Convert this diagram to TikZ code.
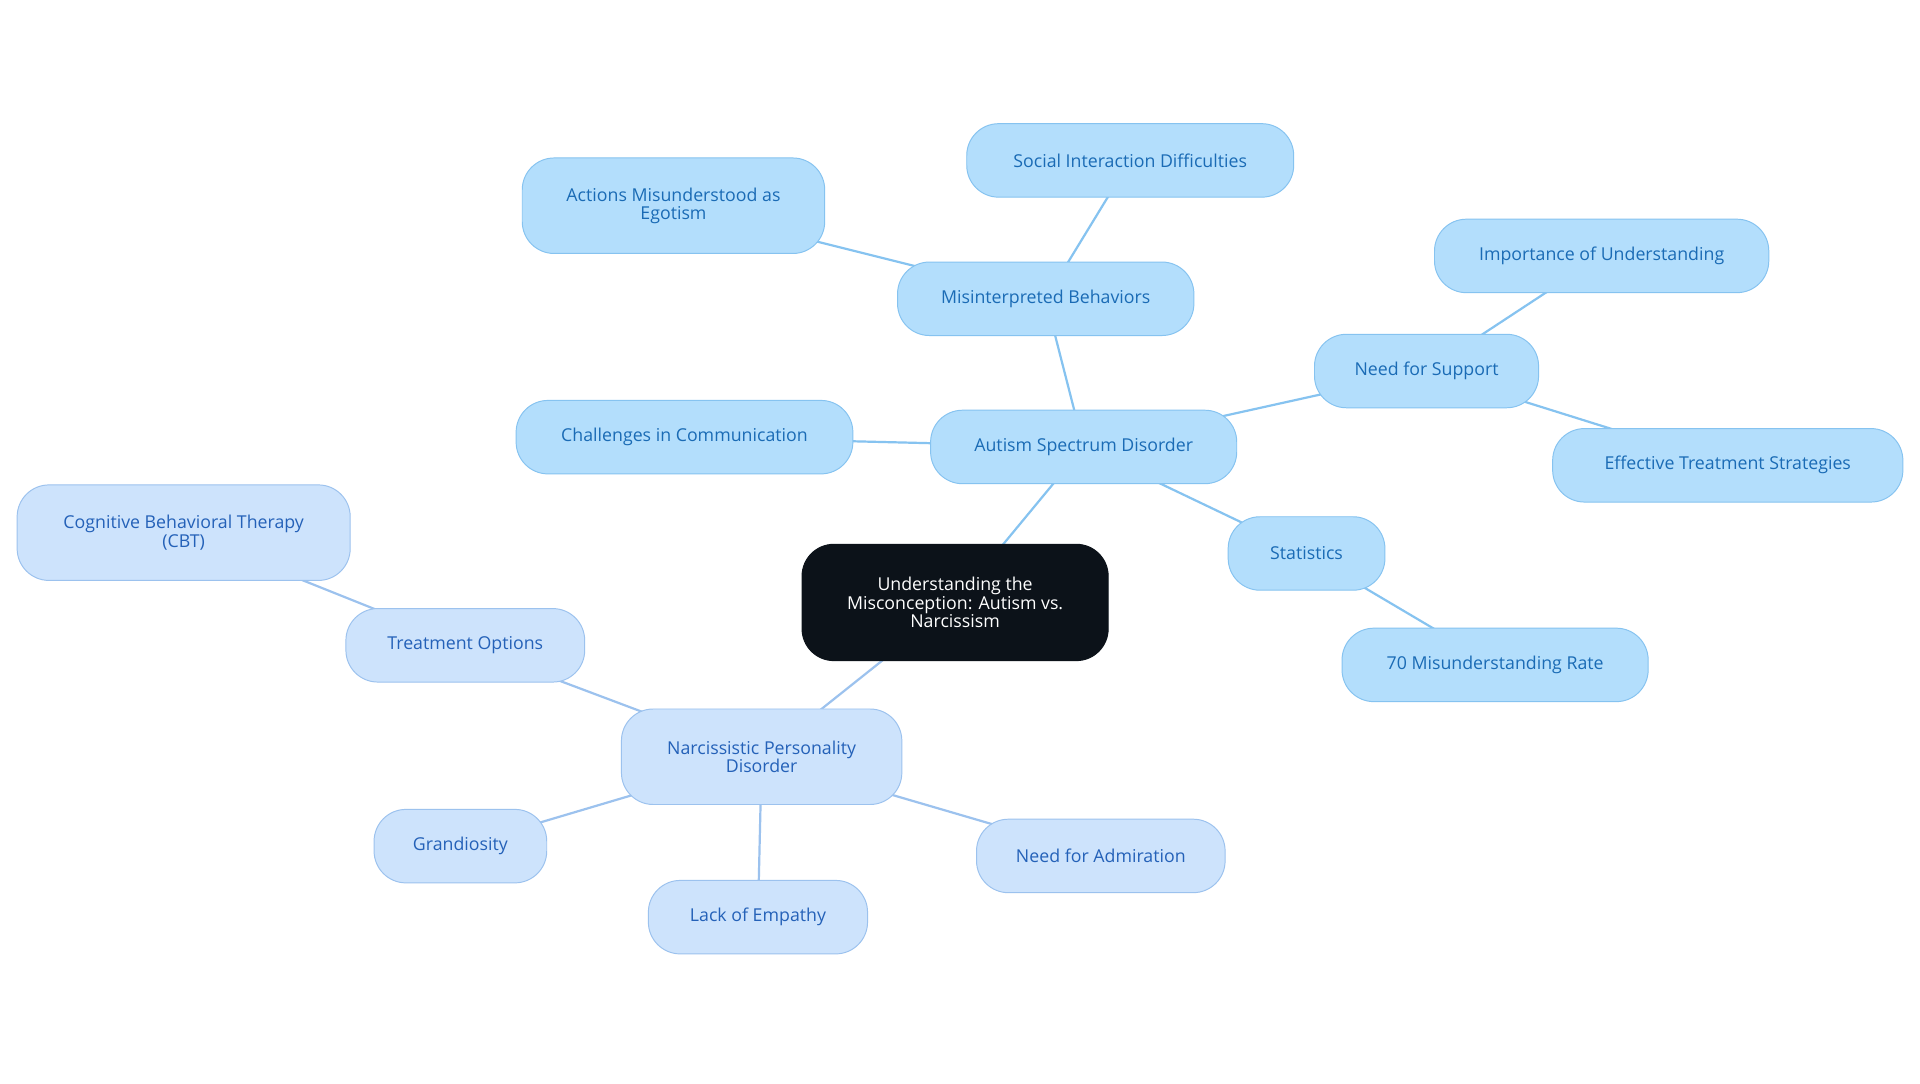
\documentclass[tikz,border=0pt]{standalone}
\usepackage{fontspec}
\setmainfont{Open Sans}
\definecolor{asdfill}{HTML}{B3DEFC}
\definecolor{asdline}{HTML}{86C3F0}
\definecolor{asdtext}{HTML}{1A6BB5}
\definecolor{npdfill}{HTML}{CDE3FC}
\definecolor{npdline}{HTML}{9CC2EE}
\definecolor{npdtext}{HTML}{2461B8}
\definecolor{rootfill}{HTML}{0C1219}
\begin{document}
\begin{tikzpicture}[x=1pt,y=-1pt,
  box/.style={rounded corners=26pt,align=center,font=\fontsize{14.5}{15}\selectfont,inner sep=0pt,line width=0.8pt},
  asd/.style={box,fill=asdfill,draw=asdline,text=asdtext},
  npd/.style={box,fill=npdfill,draw=npdline,text=npdtext},
  la/.style={draw=asdline,line width=1.8pt},
  ln/.style={draw=npdline,line width=1.8pt}]
\useasboundingbox[fill=white] (0,0) rectangle (1568,884.5);
\newcommand{\bx}[6]{\node[#1,minimum width=#4,minimum height=#5] (#2) at #3 {#6};}
\draw[la] (780,492) -- (885,365);
\draw[ln] (780,492) -- (622,618);
\draw[la] (885,365) -- (854,244);
\draw[la] (854,244) -- (923,131);
\draw[la] (854,244) -- (550,168);
\draw[la] (885,365) -- (559,357);
\draw[la] (885,365) -- (1165,303);
\draw[la] (1165,303) -- (1308,209);
\draw[la] (1165,303) -- (1411,380);
\draw[la] (885,365) -- (1067,452);
\draw[la] (1067,452) -- (1221,543);
\draw[ln] (622,618) -- (380,527);
\draw[ln] (380,527) -- (150,435);
\draw[ln] (622,618) -- (376,691);
\draw[ln] (622,618) -- (619,749);
\draw[ln] (622,618) -- (899,699);
\bx{box,fill=rootfill,draw=rootfill,text=white}{root}{(780,492)}{250}{95}{Understanding the\\Misconception: Autism vs.\\Narcissism}
\bx{asd}{asdn}{(885,365)}{250}{60}{Autism Spectrum Disorder}
\bx{asd}{mis}{(854,244)}{242}{60}{Misinterpreted Behaviors}
\bx{asd}{soc}{(923,131)}{267}{60}{Social Interaction Difficulties}
\bx{asd}{act}{(550,168)}{247}{78}{Actions Misunderstood as\\Egotism}
\bx{asd}{cha}{(559,357)}{275}{60}{Challenges in Communication}
\bx{asd}{need}{(1165,303)}{183}{60}{Need for Support}
\bx{asd}{imp}{(1308,209)}{273}{60}{Importance of Understanding}
\bx{asd}{eff}{(1411,380)}{286}{60}{Effective Treatment Strategies}
\bx{asd}{stat}{(1067,452)}{128}{60}{Statistics}
\bx{asd}{rate}{(1221,543)}{250}{60}{70 Misunderstanding Rate}
\bx{npd}{npdn}{(622,618)}{229}{78}{Narcissistic Personality\\Disorder}
\bx{npd}{tre}{(380,527)}{195}{60}{Treatment Options}
\bx{npd}{cbt}{(150,435)}{272}{78}{Cognitive Behavioral Therapy\\(CBT)}
\bx{npd}{gra}{(376,691)}{141}{60}{Grandiosity}
\bx{npd}{lack}{(619,749)}{179}{60}{Lack of Empathy}
\bx{npd}{adm}{(899,699)}{203}{60}{Need for Admiration}
\end{tikzpicture}
\end{document}
